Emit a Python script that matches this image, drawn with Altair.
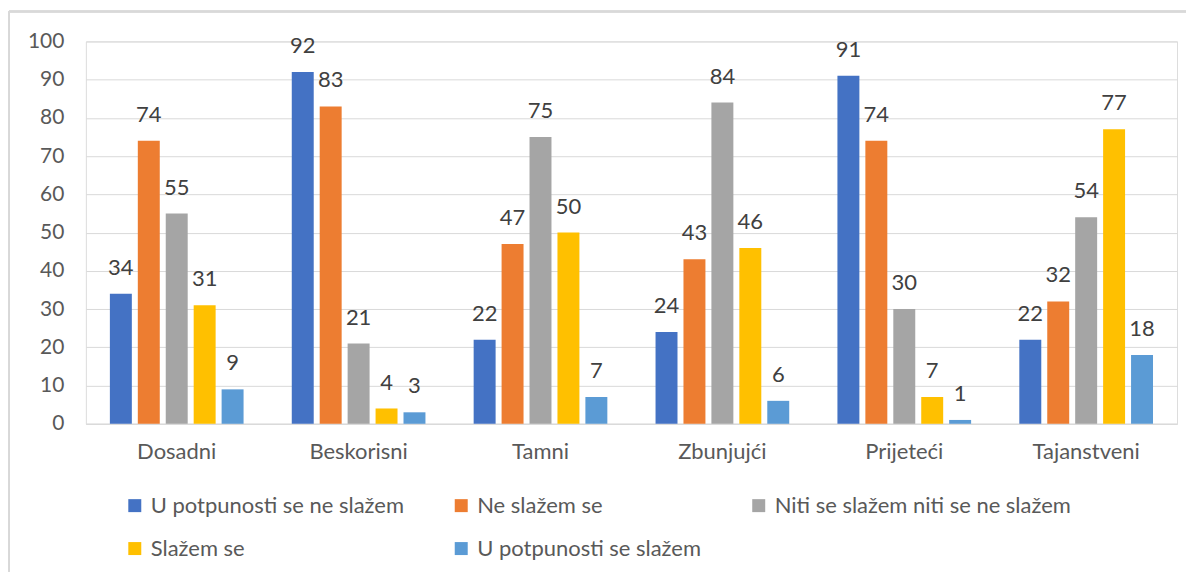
import altair as alt
import pandas as pd

categories = ["Dosadni", "Beskorisni", "Tamni", "Zbunjujći", "Prijeteći", "Tajanstveni"]
series_names = [
    "U potpunosti se ne slažem",
    "Ne slažem se",
    "Niti se slažem niti se ne slažem",
    "Slažem se",
    "U potpunosti se slažem",
]
s1 = [34, 92, 22, 24, 91, 22]
s2 = [74, 83, 47, 43, 74, 32]
s3 = [55, 21, 75, 84, 30, 54]
s4 = [31, 4, 50, 46, 7, 77]
s5 = [9, 3, 7, 6, 1, 18]
colors = ["#4472C4", "#ED7D31", "#A5A5A5", "#FFC000", "#5B9BD5"]
y_ticks = [0, 10, 20, 30, 40, 50, 60, 70, 80, 90, 100]

rows = []
for name, vals in zip(series_names, [s1, s2, s3, s4, s5]):
    for c, v in zip(categories, vals):
        rows.append({"cat": c, "series": name, "value": v})
df = pd.DataFrame(rows)

FONT = "Lato"
FS = 22

x_enc = alt.X("cat:N", sort=categories, title=None,
              scale=alt.Scale(paddingInner=0.265, paddingOuter=0.132),
              axis=alt.Axis(labelAngle=0, ticks=False, domainColor="#D9D9D9",
                            domainWidth=1, labelPadding=18, labelFontSize=FS,
                            labelColor="#595959", labelFont=FONT))
xo_enc = alt.XOffset("series:N", sort=series_names,
                     scale=alt.Scale(paddingInner=0.214, paddingOuter=0))
y_enc = alt.Y("value:Q", title=None,
              scale=alt.Scale(domain=[0, 100], nice=False),
              axis=alt.Axis(values=y_ticks, tickCount=11, ticks=False, domain=False,
                            labelOverlap=False,
                            gridColor="#D9D9D9", gridWidth=1, labelPadding=22,
                            labelFontSize=21, labelColor="#595959", labelFont=FONT))
color_enc = alt.Color("series:N", sort=series_names,
                      scale=alt.Scale(domain=series_names, range=colors),
                      legend=alt.Legend(title=None, orient="none", legendX=38, legendY=454,
                                        direction="horizontal",
                                        columns=3, columnPadding=46, rowPadding=21,
                                        symbolType="square", symbolSize=169,
                                        symbolStrokeWidth=0, labelOffset=5,
                                        labelFontSize=FS, labelColor="#595959",
                                        labelFont=FONT, labelLimit=400))

bars = alt.Chart(df).mark_bar().encode(x=x_enc, xOffset=xo_enc, y=y_enc, color=color_enc)
labels = alt.Chart(df).mark_text(baseline="middle", dy=-26, fontSize=FS,
                                 color="#404040", font=FONT).encode(
    x=x_enc, xOffset=xo_enc, y=y_enc, text="value:Q")

frame_left = alt.Chart(df).mark_rule(color="#D9D9D9", strokeWidth=1.5).encode(
    x=alt.value(-77), y=alt.value(-30), y2=alt.value(531))
frame_top = alt.Chart(df).mark_rule(color="#D9D9D9", strokeWidth=1.5).encode(
    x=alt.value(-77), x2=alt.value(1102), y=alt.value(-30))

chart = alt.layer(bars, labels, frame_left, frame_top).properties(
    width=1093, height=383, padding={"left": 0, "top": 2, "right": 0, "bottom": 0}
).configure_view(stroke=None).configure(font=FONT)

chart.save("out.html", embed_options={"renderer": "svg", "actions": False})
